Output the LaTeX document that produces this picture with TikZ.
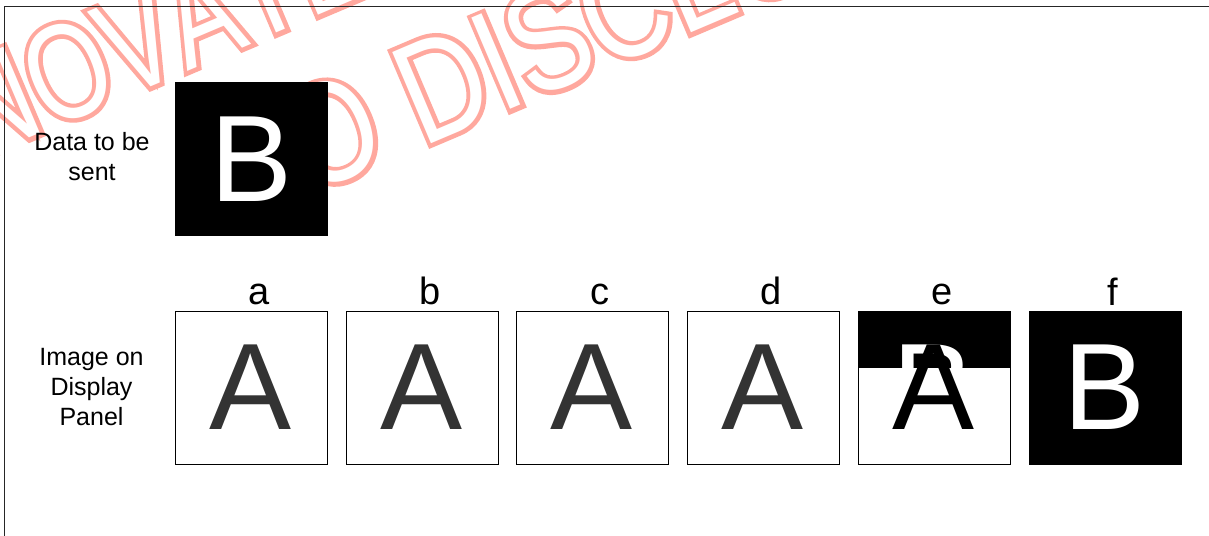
\documentclass[tikz,border=0pt]{standalone}
\usepackage{fontspec}
\setmainfont{Liberation Sans}
\newfontfamily\stampboldfont[FakeBold=6,FakeStretch=0.82,Kerning=Off]{Liberation Sans}
\newfontfamily\stampfont[FakeStretch=0.82,Kerning=Off]{Liberation Sans}
\newfontfamily\stamptopboldfont[FakeBold=6.3,FakeStretch=0.77,Kerning=Off]{Liberation Sans}
\newfontfamily\stamptopfont[FakeStretch=0.77,Kerning=Off]{Liberation Sans}
\usetikzlibrary{positioning}
\definecolor{stamppink}{HTML}{FFA89E}

\begin{document}
\begin{tikzpicture}[
    x=0.5pt, y=-0.5pt,
    every node/.style={font=\fontsize{12.5}{15}\selectfont},
    panel/.style={draw, line width=0.5pt, minimum width=76pt, minimum height=76.5pt, inner sep=0pt, font=\fontsize{61.5}{62}\selectfont},
    glyph/.style={inner sep=0pt, font=\fontsize{61.5}{62}\selectfont},
    lbl/.style={inner sep=0pt, xshift=4pt, font=\fontsize{19}{19}\selectfont},
    stamp/.style={anchor=base west, inner sep=0pt, rotate=23},
    stampout/.style={stamp, text=stamppink, font=\stampboldfont\fontsize{72}{72}\selectfont},
    stampin/.style={stamp, text=white, font=\stampfont\fontsize{72}{72}\selectfont},
    stamptopout/.style={stamp, text=stamppink, font=\stamptopboldfont\fontsize{68}{68}\selectfont},
    stamptopin/.style={stamp, text=white, font=\stamptopfont\fontsize{68}{68}\selectfont}
]
    \useasboundingbox (0,0) rectangle (1209,535);
    \node[stamptopout] (wmtop) at (-118,200.9) {INNOVATED};
    \node[stamptopin] (wmtopin) at (-118,200.9) {INNOVATED};
    \node[stampout] (wmbot) at (229,229.2) {NO DISCLOSURE};
    \node[stampin] (wmbotin) at (229,229.2) {NO DISCLOSURE};
    \draw[line width=0.75pt, black!85] (4.5,540) -- (4.5,6.5) -- (1215,6.5);

    \node[align=center] (senttxt) at (92,157) {Data to be\\sent};
    \node[panel, fill=black, text=white] (sent) at (251.5,159) {B};
    \node[align=center] (paneltxt) at (91.5,387.5) {Image on\\Display\\Panel};

    \node[panel, text=black!80] (pa) at (251,387.5) {A};
    \node[panel, text=black!80] (pb) at (422,387.5) {A};
    \node[panel, text=black!80] (pc) at (592,387.5) {A};
    \node[panel, text=black!80] (pd) at (763,387.5) {A};
    \node[panel] (pe) at (934,387.5) {};
    \fill (pe.north west) rectangle ([yshift=-28.5pt]pe.north east);
    \node[glyph, text=white] (peb) at (pe.center) {B};
    \node[glyph, text=black] (pea) at (pe.center) {A};
    \node[panel, fill=black, text=white] (pf) at (1105,387.5) {B};

    \node[lbl, above=2.5pt of pa] (la) {a};
    \node[lbl, above=2.5pt of pb] (lb) {b};
    \node[lbl, above=2.5pt of pc] (lc) {c};
    \node[lbl, above=2.5pt of pd] (ld) {d};
    \node[lbl, above=2.5pt of pe] (le) {e};
    \node[lbl, above=2.5pt of pf] (lf) {f};
\end{tikzpicture}
\end{document}
